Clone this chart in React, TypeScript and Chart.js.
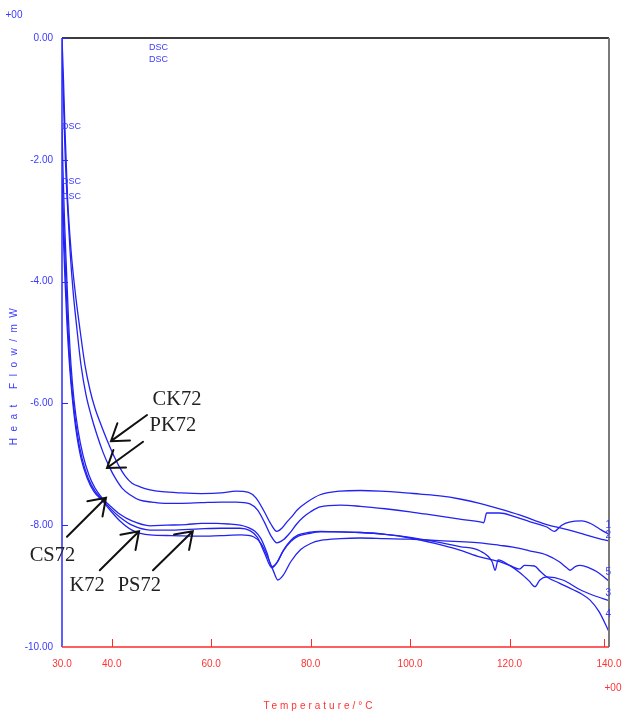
import React, { useEffect, useRef } from 'react';
import { Chart, registerables } from 'chart.js';

Chart.register(...registerables);

// ---------- data ----------
const xTickValues = [30, 40, 60, 80, 100, 120, 140];
const yTickValues = [0, -2, -4, -6, -8, -10];

// CK72 (curve 1)
const ck72T = [30, 30.3, 30.6, 31.11, 31.81, 32.61, 33.62, 34.62, 35.63, 36.64, 37.84, 39.05, 40.26, 41.46, 42.67, 44.08, 45.68, 47.7, 50.1, 54, 58, 62, 65, 67.5, 69.0, 70.5, 72.0, 73.2, 74.2, 75.2, 76.3, 77.3, 79.3, 81.9, 86, 90, 94, 98, 102, 106, 110, 114, 118, 122, 125, 127.5, 131, 135, 138, 140];
const ck72HF = [0, -0.69, -1.51, -2.61, -3.48, -4.14, -4.79, -5.37, -5.78, -6.08, -6.35, -6.6, -6.83, -7.03, -7.19, -7.31, -7.37, -7.42, -7.45, -7.47, -7.48, -7.47, -7.44, -7.46, -7.55, -7.75, -7.98, -8.1, -8.05, -7.95, -7.85, -7.75, -7.62, -7.5, -7.44, -7.43, -7.44, -7.46, -7.49, -7.52, -7.57, -7.64, -7.73, -7.83, -7.92, -7.99, -8.06, -8.15, -8.22, -8.26];

// PK72 (curve 2)
const pk72T = [30, 30.3, 30.6, 31.01, 31.61, 32.21, 33.02, 33.82, 34.83, 35.83, 37.04, 38.24, 39.45, 40.66, 42.07, 43.67, 45.68, 48.1, 50.7, 54, 58, 62, 65, 67.8, 69.3, 70.7, 72.0, 73.2, 74.5, 75.8, 77.2, 78.5, 80, 81.9, 86, 90, 95, 100, 105, 110, 114.3, 114.8, 115.4, 118, 121, 124, 127.5, 129, 130.5, 132, 134.5, 136.5, 138.5, 140];
const pk72HF = [-0.3, -1.02, -1.84, -2.61, -3.48, -4.14, -4.79, -5.37, -5.86, -6.19, -6.52, -6.8, -7.03, -7.22, -7.39, -7.5, -7.59, -7.62, -7.64, -7.64, -7.63, -7.62, -7.62, -7.65, -7.75, -7.95, -8.17, -8.29, -8.24, -8.13, -7.98, -7.87, -7.78, -7.7, -7.67, -7.69, -7.73, -7.78, -7.84, -7.9, -7.95, -7.96, -7.8, -7.8, -7.86, -7.94, -8.03, -8.1, -8.0, -7.95, -7.93, -7.98, -8.08, -8.15];

// CS72 (curve 3)
const cs72T = [30, 30.2, 30.5, 30.9, 31.31, 31.81, 32.41, 33.22, 34.22, 35.43, 36.64, 38.04, 39.65, 41.66, 44.08, 47.7, 51, 55, 58, 61, 63.5, 65.8, 67.5, 68.8, 70, 71.2, 72.2, 73.2, 74.5, 76, 77.5, 79.5, 82, 86, 90, 95, 100, 105, 110, 114, 116.5, 117.1, 117.7, 120, 122.1, 124, 125.1, 126.1, 127.5, 130.7, 134.2, 136.8, 140];
const cs72HF = [-1.49, -2.17, -2.99, -3.81, -4.63, -5.37, -5.94, -6.44, -6.85, -7.18, -7.39, -7.55, -7.68, -7.82, -7.93, -8.01, -8.0, -7.99, -7.97, -7.97, -7.98, -8.0, -8.04, -8.1, -8.22, -8.45, -8.68, -8.62, -8.42, -8.27, -8.18, -8.14, -8.11, -8.11, -8.12, -8.15, -8.2, -8.27, -8.35, -8.42, -8.6, -8.74, -8.57, -8.66, -8.78, -8.92, -9.01, -8.9, -8.85, -8.9, -9.06, -9.15, -9.24];

// K72 (curve 4)
const k72T = [30, 30.3, 30.7, 31.11, 31.61, 32.21, 33.02, 34.02, 35.23, 36.64, 38.04, 39.65, 41.66, 44.08, 47.7, 52, 57.7, 62, 65.8, 67.8, 69.3, 70.7, 72.2, 73.3, 74.6, 76, 77.5, 79.5, 82, 86, 90, 95, 100, 105, 110, 114, 118, 120, 122, 123, 125, 126.2, 127.5, 130, 132.8, 134.5, 136.2, 138, 140];
const k72HF = [-2.3, -2.99, -3.81, -4.63, -5.37, -5.94, -6.47, -6.9, -7.22, -7.44, -7.57, -7.72, -7.87, -8.0, -8.08, -8.08, -8.06, -8.05, -8.05, -8.09, -8.2, -8.45, -8.7, -8.6, -8.4, -8.25, -8.16, -8.12, -8.1, -8.11, -8.12, -8.15, -8.21, -8.3, -8.41, -8.52, -8.6, -8.66, -8.72, -8.66, -8.67, -8.76, -8.85, -8.95, -9.06, -9.13, -9.23, -9.42, -9.75];

// PS72 (curve 5)
const ps72T = [30, 30.3, 30.6, 31.01, 31.51, 32.11, 32.82, 33.82, 35.03, 36.43, 38.04, 39.65, 41.66, 44.08, 47.7, 52, 57.7, 62, 66, 68.5, 70, 71.5, 72.5, 73.4, 74.5, 76, 78, 80, 82, 86, 90, 95, 100, 105, 110, 114, 118, 120.7, 124, 127.5, 130, 131.5, 132.2, 133.2, 134.2, 136, 137.5, 139, 140];
const ps72HF = [-2.59, -3.32, -3.97, -4.71, -5.37, -5.94, -6.44, -6.9, -7.22, -7.45, -7.59, -7.75, -7.93, -8.08, -8.16, -8.17, -8.18, -8.17, -8.16, -8.19, -8.3, -8.55, -8.75, -8.9, -8.82, -8.6, -8.4, -8.3, -8.25, -8.22, -8.21, -8.22, -8.23, -8.25, -8.27, -8.29, -8.33, -8.36, -8.42, -8.49, -8.6, -8.7, -8.74, -8.68, -8.66, -8.7, -8.76, -8.85, -8.92];

// curve-end numbers
const endLabels = ['1', '2', '5', '3', '4'];
const endLabelHF = [-8.0, -8.16, -8.78, -9.11, -9.47];
const endLabelT = 139.3;

// "DSC" labels
const dscT = [47.5, 47.5, 30, 30, 30];
const dscHF = [-0.15, -0.35, -1.46, -2.35, -2.61];

// sample annotations (text + arrow)
const sampleNames = ['CK72', 'PK72', 'CS72', 'K72', 'PS72'];
const nameT = [48.2, 47.6, 23.5, 31.5, 41.2];
const nameHF = [-5.93, -6.36, -8.5, -9.0, -9.0];
const arrowTailT = [47.1, 46.3, 31.0, 37.6, 48.3];
const arrowTailHF = [-6.19, -6.63, -8.19, -8.74, -8.74];
const arrowTipT = [39.85, 39.05, 38.85, 45.5, 56.3];
const arrowTipHF = [-6.62, -7.06, -7.55, -8.1, -8.1];

const curveT = [ck72T, pk72T, cs72T, k72T, ps72T];
const curveHF = [ck72HF, pk72HF, cs72HF, k72HF, ps72HF];

// ---------- styles ----------
const SANS = '"Liberation Sans", Arial, sans-serif';
const SERIF = '"Liberation Serif", "Times New Roman", serif';
const BLUE = '#2222f2';
const LBLUE = '#3a3aff';
const RED = '#ff3333';

const decorPlugin = {
  id: 'decor',
  afterDraw(chart: any) {
    const { ctx, chartArea: a, scales } = chart;
    const xs = scales.x;
    const ys = scales.y;
    const px = (t: number) => xs.getPixelForValue(t);
    const py = (v: number) => ys.getPixelForValue(v);
    ctx.save();

    // frame
    ctx.lineWidth = 2;
    ctx.strokeStyle = '#3c3c3c';
    ctx.beginPath();
    ctx.moveTo(a.left, a.top);
    ctx.lineTo(a.right, a.top);
    ctx.stroke();
    ctx.strokeStyle = '#7a7a7a';
    ctx.beginPath();
    ctx.moveTo(a.right, a.top);
    ctx.lineTo(a.right, a.bottom);
    ctx.stroke();
    ctx.lineWidth = 1.5;
    ctx.strokeStyle = '#2a2aff';
    ctx.beginPath();
    ctx.moveTo(a.left, a.top);
    ctx.lineTo(a.left, a.bottom);
    ctx.stroke();
    ctx.strokeStyle = '#ff2a2a';
    ctx.beginPath();
    ctx.moveTo(a.left, a.bottom);
    ctx.lineTo(a.right, a.bottom);
    ctx.stroke();

    // inner tick marks
    ctx.lineWidth = 1;
    ctx.strokeStyle = '#2a2aff';
    yTickValues.forEach((v) => {
      if (v === -10) return;
      const y = Math.round(py(v)) + 0.5;
      ctx.beginPath();
      ctx.moveTo(a.left, y);
      ctx.lineTo(a.left + 6, y);
      ctx.stroke();
    });
    ctx.strokeStyle = '#ff2a2a';
    xTickValues.forEach((t) => {
      if (t === 30) return;
      const x = Math.round(px(t === 140 ? 139 : t)) + 0.5;
      ctx.beginPath();
      ctx.moveTo(x, a.bottom);
      ctx.lineTo(x, a.bottom - 8);
      ctx.stroke();
    });

    // DSC labels
    ctx.font = `9px ${SANS}`;
    ctx.fillStyle = LBLUE;
    ctx.textAlign = 'left';
    ctx.textBaseline = 'middle';
    dscT.forEach((t, i) => ctx.fillText('DSC', px(t), py(dscHF[i])));

    // curve end labels
    ctx.font = `10px ${SANS}`;
    endLabels.forEach((s, i) => ctx.fillText(s, px(endLabelT), py(endLabelHF[i])));

    // "+00" exponents
    ctx.textAlign = 'center';
    ctx.fillStyle = LBLUE;
    ctx.fillText('+00', a.left - 48, a.top - 23);
    ctx.fillStyle = RED;
    ctx.fillText('+00', a.right + 4, a.bottom + 41);

    // axis titles
    (ctx as any).letterSpacing = '3px';
    ctx.fillStyle = RED;
    ctx.fillText('Temperature/°C', (a.left + a.right) / 2 - 16, a.bottom + 59);
    (ctx as any).letterSpacing = '6.5px';
    ctx.fillStyle = LBLUE;
    ctx.translate(a.left - 48, (a.top + a.bottom) / 2 + 31);
    ctx.rotate(-Math.PI / 2);
    ctx.fillText('Heat Flow/mW', 0, 0);
    ctx.setTransform(1, 0, 0, 1, 0, 0);
    (ctx as any).letterSpacing = '0px';

    // sample names
    ctx.fillStyle = '#222';
    ctx.font = `20.5px ${SERIF}`;
    ctx.textAlign = 'left';
    ctx.textBaseline = 'middle';
    sampleNames.forEach((s, i) => ctx.fillText(s, px(nameT[i]), py(nameHF[i])));

    // arrows
    ctx.strokeStyle = '#111';
    ctx.lineWidth = 2;
    ctx.lineCap = 'round';
    sampleNames.forEach((_, i) => {
      const x0 = px(arrowTailT[i]);
      const y0 = py(arrowTailHF[i]);
      const x1 = px(arrowTipT[i]);
      const y1 = py(arrowTipHF[i]);
      const ang = Math.atan2(y1 - y0, x1 - x0);
      const L = 19;
      const spread = 0.6;
      ctx.beginPath();
      ctx.moveTo(x0, y0);
      ctx.lineTo(x1, y1);
      ctx.moveTo(x1 - L * Math.cos(ang - spread), y1 - L * Math.sin(ang - spread));
      ctx.lineTo(x1, y1);
      ctx.lineTo(x1 - L * Math.cos(ang + spread), y1 - L * Math.sin(ang + spread));
      ctx.stroke();
    });

    ctx.restore();
  },
};

export default function App() {
  const canvasRef = useRef<HTMLCanvasElement | null>(null);

  useEffect(() => {
    document.body.style.margin = '0';
    const canvas = canvasRef.current;
    if (!canvas) return;

    const datasets = curveT.map((ts, i) => ({
      label: sampleNames[i],
      data: ts.map((t, j) => ({ x: t, y: curveHF[i][j] })),
      borderColor: BLUE,
      backgroundColor: BLUE,
      borderWidth: 1.3,
      pointRadius: 0,
      fill: false,
      cubicInterpolationMode: 'monotone' as const,
    }));

    const chart = new Chart(canvas, {
      type: 'line',
      data: { datasets },
      plugins: [decorPlugin],
      options: {
        responsive: false,
        animation: false,
        events: [],
        layout: { padding: { top: 38, right: 14, left: 0, bottom: 0 } },
        plugins: { legend: { display: false }, tooltip: { enabled: false } },
        scales: {
          x: {
            type: 'linear',
            min: 30,
            max: 140,
            afterBuildTicks: (s: any) => {
              s.ticks = xTickValues.map((v) => ({ value: v }));
            },
            afterFit: (s: any) => {
              s.height = 69;
              s.paddingLeft = 0;
              s.paddingRight = 0;
            },
            grid: { display: false, drawTicks: false },
            border: { display: false },
            ticks: {
              color: RED,
              font: { family: SANS, size: 10 },
              maxRotation: 0,
              autoSkip: false,
              padding: 11,
              callback: (v: any) => Number(v).toFixed(1),
            },
          },
          y: {
            type: 'linear',
            min: -10,
            max: 0,
            afterBuildTicks: (s: any) => {
              s.ticks = yTickValues.map((v) => ({ value: v }));
            },
            afterFit: (s: any) => {
              s.width = 62;
              s.paddingTop = 0;
              s.paddingBottom = 0;
            },
            grid: { display: false, drawTicks: false },
            border: { display: false },
            ticks: {
              color: LBLUE,
              font: { family: SANS, size: 10 },
              padding: 9,
              callback: (v: any) => Number(v).toFixed(2),
            },
          },
        },
      },
    });
    return () => chart.destroy();
  }, []);

  return (
    <div style={{ width: 623, height: 716, background: '#fff' }}>
      <canvas ref={canvasRef} width={623} height={716} style={{ display: 'block' }} />
    </div>
  );
}
